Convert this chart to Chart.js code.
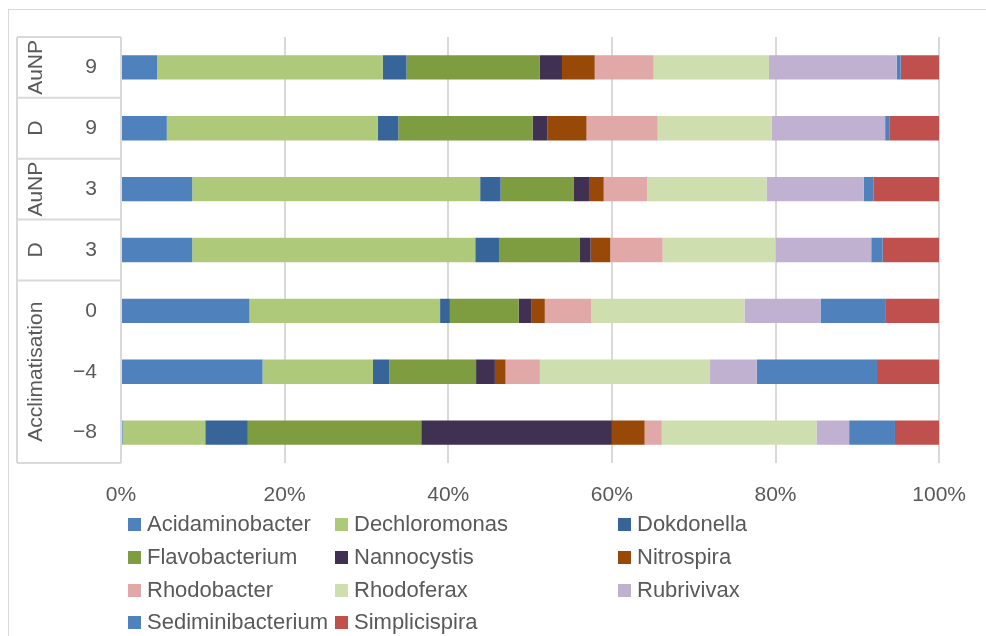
<!DOCTYPE html>
<html>
<head>
<meta charset="utf-8">
<script src="https://cdn.jsdelivr.net/npm/chart.js@4.4.1/dist/chart.umd.min.js"></script>
<style>
  html, body { margin: 0; padding: 0; background: #fff; }
  #wrap { position: relative; width: 986px; height: 636px; overflow: hidden; font-family: "Liberation Sans", Arial, sans-serif; }
  #frame { position: absolute; left: 8px; top: 9px; width: 1200px; height: 800px; border-left: 1px solid #d9d9d9; border-top: 1px solid #d9d9d9; }
  #grafico { position: absolute; left: 0; top: 0; }
  .leg { position: absolute; height: 24px; display: flex; align-items: center; color: #595959; font-size: 22px; white-space: nowrap; }
  .leg span.box { width: 13px; height: 13px; margin-right: 6px; display: inline-block; }
</style>
</head>
<body>
<div id="wrap">
  <div id="frame"></div>
  <canvas id="grafico" width="986" height="636"></canvas>
  <div id="legenda"></div>
</div>
<script>
// categorias (de cima para baixo) e grupos do eixo Y
const categorias = ["9", "9", "3", "3", "0", "\u22124", "\u22128"];
const grupos = [
  { nome: "AuNP", de: 0, ate: 0 },
  { nome: "D", de: 1, ate: 1 },
  { nome: "AuNP", de: 2, ate: 2 },
  { nome: "D", de: 3, ate: 3 },
  { nome: "Acclimatisation", de: 4, ate: 6 },
];
const ticksX = [0, 20, 40, 60, 80, 100];

// abundância relativa (%) por género
const acidaminobacter = [4.4, 5.6, 8.7, 8.7, 15.7, 17.3, 0.2];
const dechloromonas = [27.6, 25.8, 35.2, 34.6, 23.3, 13.5, 10.1];
const dokdonella = [2.9, 2.5, 2.5, 2.9, 1.2, 2.0, 5.2];
const flavobacterium = [16.3, 16.4, 8.9, 9.9, 8.4, 10.6, 21.2];
const nannocystis = [2.7, 1.8, 1.9, 1.3, 1.6, 2.3, 23.3];
const nitrospira = [4.0, 4.8, 1.8, 2.4, 1.6, 1.3, 4.0];
const rhodobacter = [7.2, 8.7, 5.3, 6.4, 5.7, 4.2, 2.1];
const rhodoferax = [14.1, 13.9, 14.6, 13.8, 18.7, 20.8, 18.9];
const rubrivivax = [15.6, 13.9, 11.9, 11.7, 9.3, 5.7, 4.0];
const sediminibacterium = [0.5, 0.5, 1.2, 1.4, 7.9, 14.7, 5.6];
const simplicispira = [4.7, 6.1, 8.0, 6.9, 6.6, 7.6, 5.4];

const series = [
  { label: "Acidaminobacter", data: acidaminobacter, cor: "#4f81bd" },
  { label: "Dechloromonas", data: dechloromonas, cor: "#afc97a" },
  { label: "Dokdonella", data: dokdonella, cor: "#386599" },
  { label: "Flavobacterium", data: flavobacterium, cor: "#7e9c40" },
  { label: "Nannocystis", data: nannocystis, cor: "#403152" },
  { label: "Nitrospira", data: nitrospira, cor: "#984807" },
  { label: "Rhodobacter", data: rhodobacter, cor: "#e0a8a7" },
  { label: "Rhodoferax", data: rhodoferax, cor: "#cfdeaf" },
  { label: "Rubrivivax", data: rubrivivax, cor: "#c0b1d1" },
  { label: "Sediminibacterium", data: sediminibacterium, cor: "#4f81bd" },
  { label: "Simplicispira", data: simplicispira, cor: "#c0504d" },
];

const corTexto = "#595959";
const corLinha = "#d9d9d9";
const fonte = { family: "'Liberation Sans', Arial, sans-serif", size: 21 };

// eixo de categorias com dois níveis
const eixoGrupos = {
  id: "eixoGrupos",
  afterDraw(chart) {
    const { ctx, chartArea, scales } = chart;
    const y = scales.y;
    const esq = 17;
    const dir = chartArea.left;
    const meio = (i) => y.getPixelForValue(i);
    const limite = (i) => {
      if (i < 0) return chartArea.top;
      if (i >= categorias.length - 1) return chartArea.bottom;
      return (meio(i) + meio(i + 1)) / 2;
    };

    ctx.save();
    ctx.strokeStyle = corLinha;
    ctx.lineWidth = 2;
    ctx.beginPath();
    ctx.moveTo(esq, chartArea.top);
    ctx.lineTo(esq, chartArea.bottom);
    ctx.moveTo(dir, chartArea.top);
    ctx.lineTo(dir, chartArea.bottom);
    ctx.moveTo(esq, chartArea.top);
    ctx.lineTo(dir, chartArea.top);
    grupos.forEach((g) => {
      const yb = limite(g.ate);
      ctx.moveTo(esq, yb);
      ctx.lineTo(dir, yb);
    });
    ctx.stroke();

    ctx.fillStyle = corTexto;
    ctx.font = `${fonte.size}px ${fonte.family}`;
    ctx.textAlign = "center";
    ctx.textBaseline = "middle";
    grupos.forEach((g) => {
      const yc = (limite(g.de - 1) + limite(g.ate)) / 2;
      ctx.save();
      ctx.translate(36, yc);
      ctx.rotate(-Math.PI / 2);
      ctx.fillText(g.nome, 0, 0);
      ctx.restore();
    });
    ctx.restore();
  },
};

new Chart(document.getElementById("grafico"), {
  type: "bar",
  data: {
    labels: categorias,
    datasets: series.map((s) => ({
      label: s.label,
      data: s.data,
      backgroundColor: s.cor,
      borderWidth: 0,
      categoryPercentage: 1,
      barPercentage: 0.4,
    })),
  },
  options: {
    indexAxis: "y",
    responsive: false,
    animation: false,
    layout: { padding: { top: 37, right: 46, bottom: 0, left: 0 } },
    plugins: {
      legend: { display: false },
      tooltip: { enabled: false },
    },
    scales: {
      x: {
        stacked: true,
        min: 0,
        max: 100,
        afterBuildTicks: (scale) => {
          scale.ticks = ticksX.map((v) => ({ value: v }));
        },
        afterFit: (scale) => {
          scale.height = 173;
        },
        ticks: {
          color: corTexto,
          font: fonte,
          padding: 20,
          callback: (v) => v + "%",
        },
        grid: { color: corLinha, lineWidth: 2, drawTicks: false },
        border: { display: false },
      },
      y: {
        stacked: true,
        afterFit: (scale) => {
          scale.width = 121;
        },
        ticks: { color: corTexto, font: fonte, padding: 24 },
        grid: { display: false, drawTicks: false },
        border: { display: false },
      },
    },
  },
  plugins: [eixoGrupos],
});

// legenda em 3 colunas
const colunasLegenda = [128, 335, 618];
const linhasLegenda = [524, 557, 590, 622];
const legenda = document.getElementById("legenda");
series.forEach((s, i) => {
  const item = document.createElement("div");
  item.className = "leg";
  item.style.left = colunasLegenda[i % 3] + "px";
  item.style.top = linhasLegenda[Math.floor(i / 3)] - 12 + "px";
  item.innerHTML = `<span class="box" style="background:${s.cor}"></span>${s.label}`;
  legenda.appendChild(item);
});
</script>
</body>
</html>
